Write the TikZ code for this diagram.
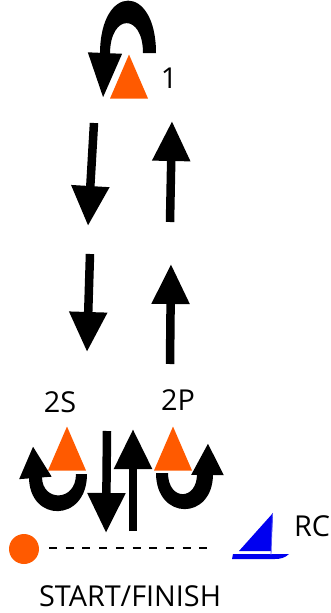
\documentclass[tikz,border=0pt]{standalone}
\usepackage{fontspec}
\setmainfont{Open Sans}
\usetikzlibrary{arrows.meta, positioning, shapes.geometric}
\definecolor{markorange}{HTML}{FF5A00}
\definecolor{boatblue}{HTML}{0000F0}
\begin{document}
\begin{tikzpicture}[
    x=1pt, y=-1pt,
    leg/.style={line width=8.5pt, -{Triangle[length=40pt, width=36pt]}},
    turn/.style={line width=10pt, -{Triangle[length=46pt, width=31pt]}},
    turnsmall/.style={line width=10pt, -{Triangle[length=32pt, width=30pt]}},
    buoy/.style={isosceles triangle, isosceles triangle stretches, shape border rotate=90,
        fill=markorange, inner sep=0pt, minimum width=38pt, minimum height=44pt, anchor=apex},
    lbl/.style={font=\fontsize{28.8}{29}\selectfont, inner sep=0pt},
]
    \useasboundingbox (0, 0) rectangle (331, 613);

    % Marks
    \node[buoy] (mark1) at (129, 54) {};
    \node[buoy] (mark2s) at (67, 426) {};
    \node[buoy] (mark2p) at (173, 426) {};
    \node[circle, fill=markorange, inner sep=0pt, minimum size=30pt] (pin) at (24, 549) {};

    % Labels
    \node[lbl] (lab1) at (169, 78) {1};
    \node[lbl] (lab2s) at (60, 402) {2S};
    \node[lbl] (lab2p) at (178, 400) {2P};
    \node[lbl] (labrc) at (312, 526) {RC};
    \node[lbl] (labstart) at (130, 596) {START/FINISH};

    % Ends of the legs
    \coordinate (dnAs) at (94, 123);
    \coordinate (dnAe) at (88, 226);
    \coordinate (dnBs) at (90, 254);
    \coordinate (dnBe) at (87, 352);
    \coordinate (upAs) at (170, 222);
    \coordinate (upAe) at (172, 121);
    \coordinate (upBs) at (170, 364);
    \coordinate (upBe) at (171, 264);
    \coordinate (dnCs) at (107, 431);
    \coordinate (dnCe) at (106, 533);
    \coordinate (upCs) at (133, 531);
    \coordinate (upCe) at (133, 429);

    % Straight legs
    \draw[leg] (dnAs) -- (dnAe);
    \draw[leg] (dnBs) -- (dnBe);
    \draw[leg] (upAs) -- (upAe);
    \draw[leg] (upBs) -- (upBe);
    \draw[leg] (dnCs) -- (dnCe);
    \draw[leg] (upCs) -- (upCe);

    % Rounding arrows: a band, thicker at the middle, then the head
    \fill (156, 53) .. controls (156, -17) and (100, -17) .. (100, 54)
        -- (110, 54) .. controls (110, 13) and (143, 13) .. (143, 53) -- cycle;
    \coordinate (topS) at (105, 52);
    \coordinate (topE) at (103, 99);
    \draw[turn] (topS) -- (topE);

    \fill (87, 474) .. controls (87, 523) and (29, 523) .. (29, 477)
        -- (42, 477) .. controls (42, 502) and (76, 502) .. (76, 474) -- cycle;
    \coordinate (leftS) at (35.5, 479);
    \coordinate (leftE) at (33, 446);
    \draw[turnsmall] (leftS) -- (leftE);

    \fill (156, 473) .. controls (156, 521) and (213, 521) .. (213, 474)
        -- (197, 474) .. controls (197, 501) and (168, 501) .. (168, 473) -- cycle;
    \coordinate (rightS) at (207.5, 476);
    \coordinate (rightE) at (208, 443);
    \draw[turnsmall] (rightS) -- (rightE);

    % Start line
    \coordinate (lineS) at (49, 548);
    \coordinate (lineE) at (208, 548);
    \draw[line width=1.6pt, dash pattern=on 8pt off 8.7pt] (lineS) -- (lineE);

    % Committee boat
    \fill[boatblue] (273, 513) -- (271, 551) -- (239, 551) -- cycle;
    \fill[boatblue] (232, 559) -- (233, 554) -- (289, 554) .. controls (285, 558) and (280, 559) .. (275, 559) -- cycle;
    \draw[boatblue!65, line width=0.8pt] (272.5, 513) -- (271, 555);
\end{tikzpicture}
\end{document}
